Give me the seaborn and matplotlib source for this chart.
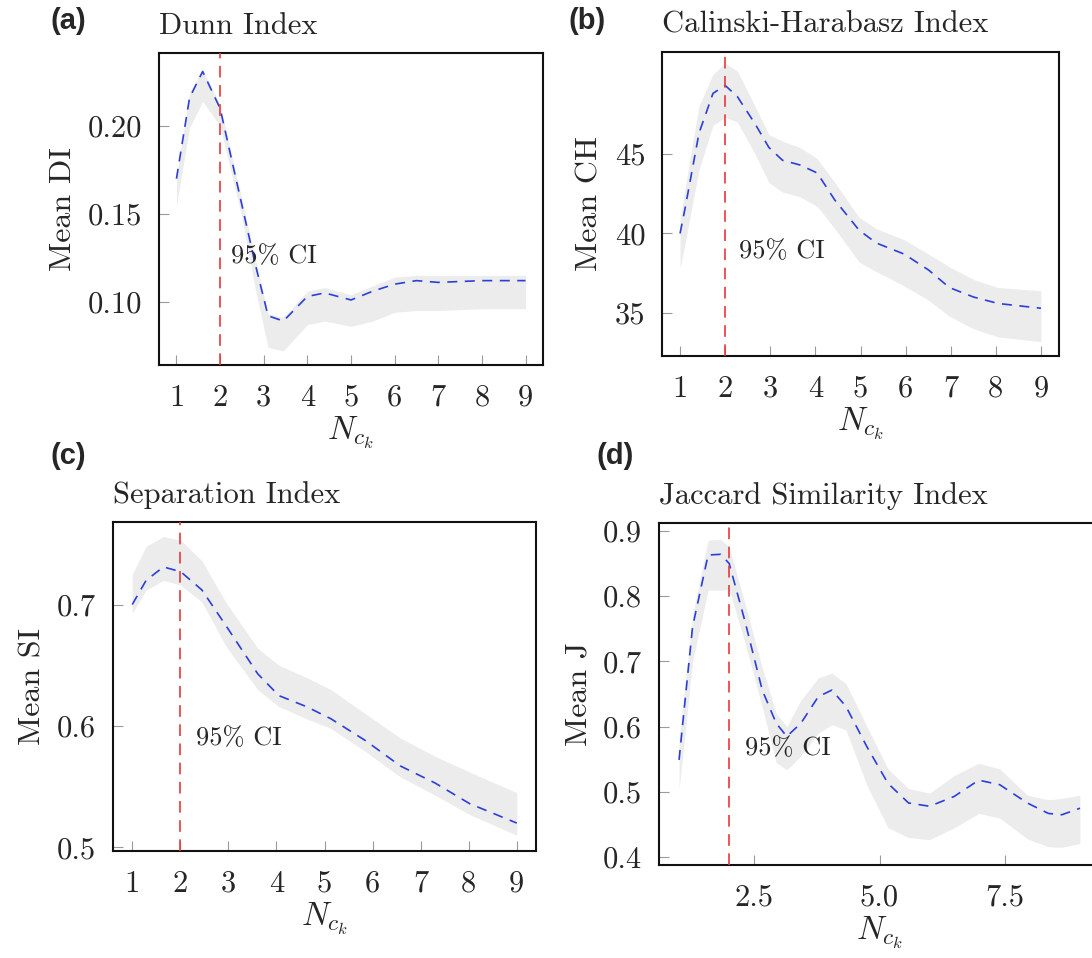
import numpy as np
import pandas as pd
import matplotlib
matplotlib.use("Agg")
import matplotlib.pyplot as plt
import seaborn as sns

# (a) Dunn index
dunn_x = [1, 1.3, 1.6, 2.0, 2.5, 2.8, 3.1, 3.45, 4.0, 4.4, 5.0, 5.5, 6.0, 6.5, 7.0, 8.0, 9.0]
dunn_mean = [0.170, 0.216, 0.231, 0.210, 0.155, 0.122, 0.092, 0.089, 0.103, 0.105,
             0.101, 0.106, 0.110, 0.112, 0.111, 0.112, 0.112]
dunn_hi = [0.171, 0.219, 0.232, 0.212, 0.158, 0.125, 0.093, 0.091, 0.106, 0.108,
           0.104, 0.109, 0.114, 0.115, 0.115, 0.115, 0.115]
dunn_lo = [0.155, 0.199, 0.214, 0.200, 0.148, 0.108, 0.074, 0.072, 0.087, 0.089,
           0.086, 0.089, 0.094, 0.095, 0.095, 0.096, 0.096]

# (b) Calinski-Harabasz index
ch_x = [1, 1.12, 1.42, 1.73, 2.0, 2.27, 2.66, 2.97, 3.27, 3.66, 4.04, 4.43, 4.97,
        5.35, 5.97, 6.51, 6.97, 7.51, 8.05, 9.0]
ch_mean = [40.0, 41.7, 46.3, 48.8, 49.3, 48.6, 46.9, 45.4, 44.6, 44.3, 43.8, 42.1,
           40.2, 39.4, 38.7, 37.7, 36.6, 36.0, 35.6, 35.3]
ch_hi = [40.8, 43.0, 48.0, 50.0, 50.7, 50.2, 48.0, 46.2, 45.8, 45.4, 44.7, 43.2,
         41.0, 40.3, 39.6, 38.7, 37.9, 37.1, 36.6, 36.4]
ch_lo = [37.8, 39.5, 44.0, 46.8, 47.3, 47.0, 45.0, 43.2, 42.6, 42.3, 41.7, 40.3,
         38.2, 37.6, 36.7, 35.8, 34.8, 34.0, 33.5, 33.2]

# (c) Separation index
si_x = [1, 1.29, 1.65, 2.01, 2.45, 2.96, 3.61, 4.05, 4.62, 5.13, 5.85, 6.58, 7.3, 8.02, 9.0]
si_mean = [0.700, 0.720, 0.731, 0.727, 0.712, 0.682, 0.643, 0.625, 0.616, 0.606,
           0.588, 0.567, 0.553, 0.536, 0.520]
si_hi = [0.725, 0.748, 0.756, 0.753, 0.736, 0.701, 0.664, 0.650, 0.640, 0.630,
         0.610, 0.590, 0.575, 0.562, 0.545]
si_lo = [0.693, 0.712, 0.720, 0.716, 0.702, 0.665, 0.630, 0.616, 0.606, 0.598,
         0.579, 0.558, 0.543, 0.527, 0.510]

# (d) Jaccard similarity index
jac_x = [1, 1.27, 1.58, 1.83, 2.0, 2.31, 2.66, 2.94, 3.15, 3.43, 3.78, 4.05, 4.33,
         4.75, 5.17, 5.58, 6.0, 6.49, 6.98, 7.4, 7.95, 8.37, 8.64, 9.0]
jac_mean = [0.549, 0.753, 0.863, 0.864, 0.850, 0.763, 0.656, 0.605, 0.585, 0.605,
            0.646, 0.656, 0.631, 0.569, 0.513, 0.483, 0.478, 0.493, 0.518, 0.511,
            0.483, 0.467, 0.465, 0.475]
jac_hi = [0.580, 0.770, 0.886, 0.887, 0.875, 0.790, 0.690, 0.620, 0.600, 0.640,
          0.675, 0.682, 0.666, 0.600, 0.535, 0.505, 0.498, 0.525, 0.544, 0.535,
          0.495, 0.488, 0.490, 0.495]
jac_lo = [0.503, 0.700, 0.809, 0.809, 0.810, 0.730, 0.630, 0.545, 0.534, 0.555,
          0.590, 0.603, 0.595, 0.510, 0.445, 0.430, 0.427, 0.445, 0.467, 0.460,
          0.428, 0.416, 0.415, 0.421]

titles = ["Dunn Index", "Calinski-Harabasz Index", "Separation Index", "Jaccard Similarity Index"]
ylabels = ["Mean DI", "Mean CH", "Mean SI", "Mean J"]
panel_tags = ["(a)", "(b)", "(c)", "(d)"]
optimal_k = 2

sns.set_theme(style="white")
plt.rcParams["font.family"] = ["cmr10", "DejaVu Serif"]
plt.rcParams["mathtext.fontset"] = "cm"
plt.rcParams["axes.unicode_minus"] = False
plt.rcParams["axes.formatter.use_mathtext"] = True

W, H = 1092, 958
fig = plt.figure(figsize=(W / 100, H / 100), dpi=100)


def px_axes(left, top, right, bottom):
    # axes placed by pixel box of the reference
    return fig.add_axes([left / W, 1 - bottom / H, (right - left) / W, (bottom - top) / H])


panels = [
    dict(box=(159, 53, 543, 365), x=dunn_x, m=dunn_mean, lo=dunn_lo, hi=dunn_hi,
         ylim=(0.064, 0.2415), yticks=[0.10, 0.15, 0.20], fmt="{:.2f}", ci=(2.25, 0.1256),
         tag=(51, 21)),
    dict(box=(662, 52, 1059, 356), x=ch_x, m=ch_mean, lo=ch_lo, hi=ch_hi,
         ylim=(32.3, 51.4), yticks=[35, 40, 45], fmt="{:.0f}", ci=(2.31, 38.85),
         tag=(568, 21)),
    dict(box=(113, 522, 536, 851), x=si_x, m=si_mean, lo=si_lo, hi=si_hi,
         ylim=(0.497, 0.768), yticks=[0.5, 0.6, 0.7], fmt="{:.1f}", ci=(2.33, 0.590),
         tag=(50, 456)),
    dict(box=(659, 523, 1100, 865), x=jac_x, m=jac_mean, lo=jac_lo, hi=jac_hi,
         ylim=(0.388, 0.912), yticks=[0.4, 0.5, 0.6, 0.7, 0.8, 0.9], fmt="{:.1f}",
         ci=(2.31, 0.567), tag=(597, 456)),
]

for i, p in enumerate(panels):
    ax = px_axes(*p["box"])
    ax.fill_between(p["x"], p["lo"], p["hi"], color="#ececec", linewidth=0, zorder=1)
    df = pd.DataFrame({"k": p["x"], "val": p["m"]})
    sns.lineplot(data=df, x="k", y="val", ax=ax, color="#2b3fd8", linewidth=1.2,
                 linestyle="--", zorder=3)
    ax.lines[-1].set_dashes((6, 4.5))
    ax.axvline(optimal_k, color="#e8383a", linewidth=1.2, dashes=(7, 4.5), zorder=4)
    ax.text(p["ci"][0], p["ci"][1], "95% CI", fontsize=19, va="center", ha="left", zorder=5)

    ax.set_xlim(0.6, 9.4)
    ax.set_ylim(*p["ylim"])
    if i == 3:
        ax.set_xticks([2.5, 5.0, 7.5])
        ax.set_xticklabels(["2.5", "5.0", "7.5"])
    else:
        ax.set_xticks(range(1, 10))
        ax.set_xticklabels([str(k) for k in range(1, 10)])
    ax.set_yticks(p["yticks"])
    ax.set_yticklabels([p["fmt"].format(v) for v in p["yticks"]])
    ax.tick_params(direction="in", length=7, width=0.8, color="#9a9a9a",
                   labelsize=22, bottom=True, left=True)
    ax.tick_params(axis="x", pad=14)
    ax.tick_params(axis="y", pad=12)
    for s in ax.spines.values():
        s.set_linewidth(1.5)
        s.set_color("#111111")
        s.set_visible(True)

    ax.set_xlabel(r"$N_{c_k}$", fontsize=24, labelpad=2)
    ax.set_ylabel(ylabels[i], fontsize=23, labelpad=8)
    ax.set_title(titles[i], loc="left", fontsize=22, pad=14)

    fig.text(p["tag"][0] / W, 1 - p["tag"][1] / H, panel_tags[i], fontsize=21,
             fontweight="bold", family="Liberation Sans", ha="left", va="center")

fig.savefig("out.png", dpi=100)
